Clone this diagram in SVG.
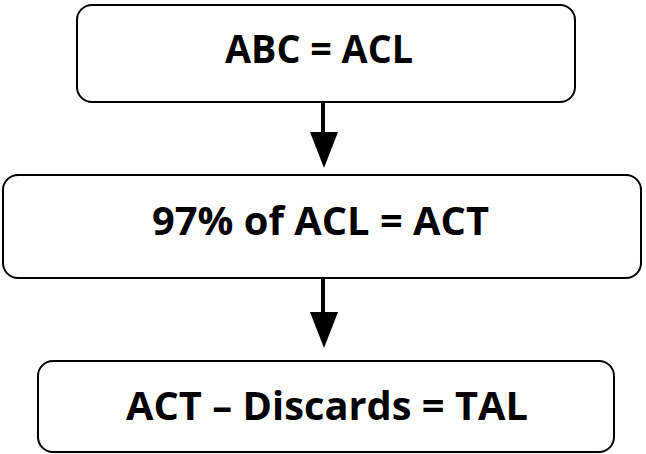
<svg xmlns="http://www.w3.org/2000/svg" width="646" height="454" viewBox="0 0 646 454">
<style>
.box{fill:#fff;stroke:#000;stroke-width:2}
.lbl{font-family:"Open Sans",Lato,"Liberation Sans",sans-serif;font-weight:bold;font-size:39px;fill:#000}
.shaft{stroke:#000;stroke-width:4}
.head{fill:#000}
</style>
<rect width="646" height="454" fill="#fff"/>
<g id="node1">
<rect class="box" x="77" y="5" width="498" height="97" rx="15"/>
<text class="lbl" x="225" y="63" textLength="188" lengthAdjust="spacingAndGlyphs">ABC = ACL</text>
</g>
<g id="node2">
<rect class="box" x="3" y="175" width="638" height="103" rx="15"/>
<text class="lbl" x="152" y="235" textLength="337" lengthAdjust="spacingAndGlyphs">97% of ACL = ACT</text>
</g>
<g id="node3">
<rect class="box" x="38" y="361" width="576" height="91" rx="15"/>
<text class="lbl" x="126" y="420" textLength="402" lengthAdjust="spacingAndGlyphs">ACT – Discards = TAL</text>
</g>
<g id="connectors">
<line class="shaft" x1="323" y1="102" x2="323" y2="134"/>
<polygon class="head" points="310,132 338,132 324,168"/>
<line class="shaft" x1="323" y1="278" x2="323" y2="314"/>
<polygon class="head" points="310,312 338,312 324,348"/>
</g>
</svg>
